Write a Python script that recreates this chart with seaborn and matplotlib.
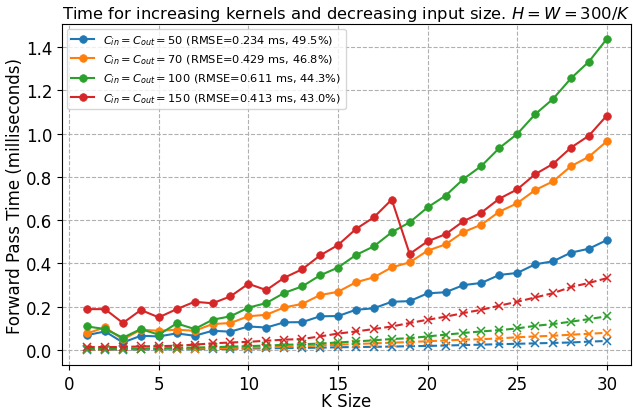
import matplotlib
matplotlib.use("Agg")
import matplotlib.pyplot as plt
import seaborn as sns
import pandas as pd
import numpy as np

k_sizes = list(range(1, 31))

channels = [50, 70, 100, 150]
rmse_ms = ["0.234", "0.429", "0.611", "0.413"]
rmse_pct = ["49.5", "46.8", "44.3", "43.0"]

measured_50 = [0.069, 0.086, 0.035, 0.066, 0.063, 0.077, 0.066, 0.089, 0.085, 0.109,
               0.104, 0.128, 0.129, 0.156, 0.157, 0.186, 0.193, 0.223, 0.226, 0.262,
               0.267, 0.300, 0.310, 0.347, 0.356, 0.396, 0.410, 0.450, 0.468, 0.508]
measured_70 = [0.077, 0.105, 0.049, 0.094, 0.089, 0.094, 0.089, 0.120, 0.125, 0.156,
               0.163, 0.197, 0.213, 0.254, 0.269, 0.313, 0.336, 0.382, 0.405, 0.459,
               0.488, 0.545, 0.579, 0.639, 0.678, 0.739, 0.779, 0.849, 0.893, 0.964]
measured_100 = [0.109, 0.097, 0.057, 0.097, 0.071, 0.123, 0.097, 0.140, 0.156, 0.196,
                0.217, 0.264, 0.294, 0.345, 0.381, 0.439, 0.479, 0.544, 0.590, 0.659,
                0.713, 0.790, 0.850, 0.933, 0.998, 1.089, 1.160, 1.255, 1.332, 1.437]
measured_150 = [0.189, 0.189, 0.125, 0.185, 0.151, 0.189, 0.223, 0.216, 0.248, 0.306,
                0.277, 0.334, 0.373, 0.437, 0.485, 0.559, 0.613, 0.695, 0.444, 0.502,
                0.535, 0.595, 0.635, 0.699, 0.742, 0.812, 0.860, 0.935, 0.990, 1.083]

predicted_50 = [0.002, 0.002, 0.002, 0.003, 0.003, 0.004, 0.004, 0.005, 0.006, 0.007,
                0.008, 0.009, 0.010, 0.011, 0.013, 0.014, 0.015, 0.016, 0.018, 0.019,
                0.021, 0.023, 0.025, 0.027, 0.029, 0.031, 0.033, 0.035, 0.039, 0.042]
predicted_70 = [0.003, 0.003, 0.004, 0.004, 0.005, 0.006, 0.007, 0.008, 0.010, 0.011,
                0.013, 0.015, 0.018, 0.021, 0.025, 0.028, 0.031, 0.034, 0.037, 0.041,
                0.044, 0.048, 0.050, 0.054, 0.059, 0.063, 0.066, 0.071, 0.075, 0.080]
predicted_100 = [0.005, 0.005, 0.006, 0.007, 0.008, 0.010, 0.012, 0.013, 0.016, 0.018,
                 0.021, 0.024, 0.027, 0.030, 0.035, 0.040, 0.045, 0.051, 0.055, 0.063,
                 0.071, 0.079, 0.086, 0.092, 0.100, 0.112, 0.120, 0.131, 0.143, 0.156]
predicted_150 = [0.014, 0.014, 0.014, 0.017, 0.018, 0.020, 0.025, 0.031, 0.035, 0.038,
                 0.043, 0.048, 0.051, 0.063, 0.076, 0.086, 0.097, 0.109, 0.125, 0.140,
                 0.154, 0.171, 0.186, 0.205, 0.223, 0.243, 0.263, 0.291, 0.310, 0.332]

measured = [measured_50, measured_70, measured_100, measured_150]
predicted = [predicted_50, predicted_70, predicted_100, predicted_150]

colors = sns.color_palette("tab10", 4)

fig = plt.figure(figsize=(6.33, 4.10), dpi=100)
ax = fig.add_axes([62 / 633, 44 / 410, (631 - 62) / 633, (366 - 25) / 410])

for c, meas, rm, rp, col in zip(channels, measured, rmse_ms, rmse_pct, colors):
    df = pd.DataFrame({"K": k_sizes, "meas": meas})
    label = rf"$C_{{in}}=C_{{out}}={c}$ (RMSE={rm} ms, {rp}%)"
    sns.lineplot(data=df, x="K", y="meas", ax=ax, color=col, marker="o",
                 markersize=5.5, markeredgecolor=col, markeredgewidth=0.5,
                 linewidth=1.5, label=label)
for c, pred, col in zip(channels, predicted, colors):
    df = pd.DataFrame({"K": k_sizes, "pred": pred})
    sns.lineplot(data=df, x="K", y="pred", ax=ax, color=col, marker="x",
                 markersize=6, markeredgecolor=col, markeredgewidth=1.1,
                 linewidth=1.5, linestyle="--", legend=False)

ax.set_xlim(-0.4, 31.35)
ax.set_ylim(-0.069, 1.506)
ax.set_xticks([0, 5, 10, 15, 20, 25, 30])
ax.set_yticks([0.0, 0.2, 0.4, 0.6, 0.8, 1.0, 1.2, 1.4])
ax.set_yticklabels(["0.0", "0.2", "0.4", "0.6", "0.8", "1.0", "1.2", "1.4"])
ax.grid(True, linestyle="--", color="#b0b0b0", linewidth=0.8)
ax.tick_params(labelsize=12)
ax.set_xlabel("K Size", fontsize=12)
ax.xaxis.set_label_coords(0.5, -0.08)
ax.set_ylabel("Forward Pass Time (milliseconds)", fontsize=12)
ax.yaxis.set_label_coords(-0.066, 0.5)
ax.set_title(r"Time for increasing kernels and decreasing input size. $H=W=300/K$",
             fontsize=11.8, pad=4)
ax.legend(loc="upper left", fontsize=8.2, borderaxespad=0.4)

fig.savefig("out.png", dpi=100)
